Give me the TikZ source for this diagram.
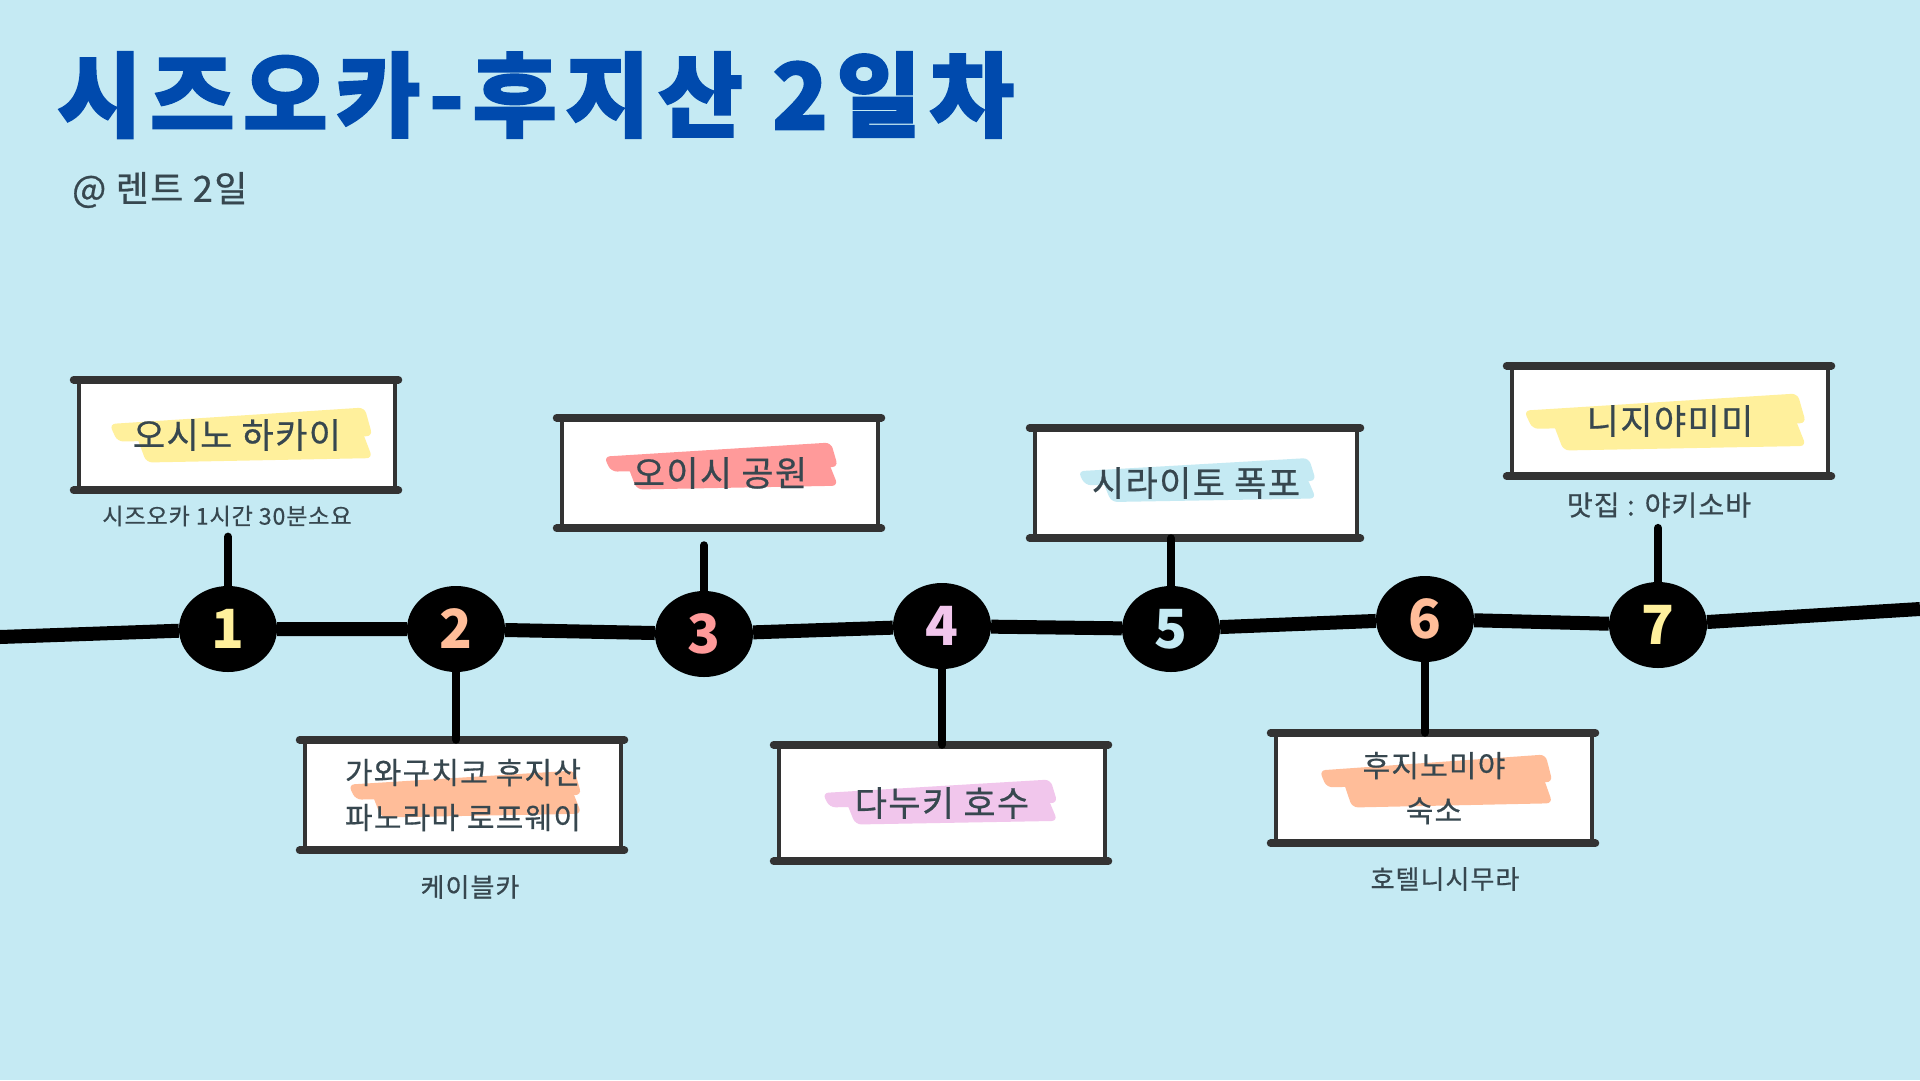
\documentclass[tikz,border=0pt]{standalone}
\usepackage{fontspec}
\setmainfont{Noto Sans CJK KR}
\newfontfamily\titlefont{Noto Sans CJK KR}[FakeBold=2, LetterSpace=9]
\newfontfamily\handfont{Noto Sans CJK KR}[FakeBold=0.6, LetterSpace=4]
\usetikzlibrary{shapes.geometric}

\definecolor{bg}{HTML}{C5EAF3}
\definecolor{titleblue}{HTML}{004AAD}
\definecolor{ink}{HTML}{37474F}
\definecolor{border}{HTML}{333333}
\definecolor{hiyellow}{HTML}{FFF09C}
\definecolor{hicoral}{HTML}{FF9A9A}
\definecolor{hipeach}{HTML}{FFBD99}
\definecolor{hipink}{HTML}{F1C6EC}
\definecolor{hiblue}{HTML}{C5EAF3}

\newcommand\numfont{\bfseries\fontsize{54}{54}\selectfont}
\newcommand\brush[5]{%
  \fill[#5, rounded corners=6pt] ({#1-0.50*#3},{#2-0.20*#4}) -- ({#1+0.47*#3},{#2-0.50*#4})
    -- ({#1+0.50*#3},{#2+0.02*#4}) -- ({#1-0.47*#3},{#2+0.12*#4}) -- cycle;
  \fill[#5, rounded corners=6pt] ({#1-0.40*#3},{#2-0.02*#4}) -- ({#1+0.46*#3},{#2-0.08*#4})
    -- ({#1+0.50*#3},{#2+0.42*#4}) -- ({#1-0.36*#3},{#2+0.50*#4}) -- cycle;
}

\tikzset{
  dot/.style={ellipse, fill=black, minimum width=98pt, minimum height=86pt,
    inner sep=0pt, font=\numfont},
  card/.style={draw=border, line width=4.5pt, fill=white, minimum width=316pt,
    minimum height=106pt, inner sep=0pt},
  cardedge/.style={draw=border, line width=8pt, line cap=round,
    shorten <=-3pt, shorten >=-1pt},
  label/.style={text=ink, inner sep=0pt, align=center,
    font=\handfont\fontsize{35}{44}\selectfont},
  label2/.style={label, font=\handfont\fontsize{30}{45}\selectfont},
  note/.style={text=ink, inner sep=2pt, font=\handfont\fontsize{26}{30}\selectfont},
  stem/.style={line width=8pt, line cap=round},
  timeline/.style={line width=14pt}
}

\begin{document}
\begin{tikzpicture}[x=1pt, y=-1pt]
        \fill[bg] (0,0) rectangle (1920,1080);
        \useasboundingbox (0,0) rectangle (1920,1080);

        % title
        \node[anchor=west, inner sep=0pt, text=titleblue,
          font=\titlefont\bfseries\fontsize{92}{92}\selectfont] (title) at (57,95) {시즈오카-후지산 2일차};
        \node[anchor=west, inner sep=0pt, text=ink,
          font=\handfont\fontsize{36}{36}\selectfont] (subtitle) at (72,190) {@ 렌트 2일};

        % stops on the line
        \node[dot, text=hiyellow] (n1) at (228, 629) {1};
        \node[dot, text=hipeach]  (n2) at (456, 629) {2};
        \node[dot, text=hicoral]  (n3) at (704, 634) {3};
        \node[dot, text=hipink]   (n4) at (942, 626) {4};
        \node[dot, text=hiblue]   (n5) at (1171, 629) {5};
        \node[dot, text=hipeach]  (n6) at (1425, 619) {6};
        \node[dot, text=hiyellow] (n7) at (1658, 625) {7};

        \coordinate (lineL) at (0, 637);
        \coordinate (lineR) at (1920, 609);
        \draw[timeline] (lineL) -- (n1) -- (n2) -- (n3) -- (n4) -- (n5) -- (n6) -- (n7) -- (lineR);

        % cards
        \node[card] (b1) at (237, 435) {};
        \node[card] (b2) at (463, 795) {};
        \node[card] (b3) at (720, 473) {};
        \node[card, minimum width=326pt, minimum height=112pt] (b4) at (942, 803) {};
        \node[card, minimum width=322pt] (b5) at (1196, 483) {};
        \node[card] (b6) at (1434, 788) {};
        \node[card] (b7) at (1670, 421) {};
        \foreach \b in {b1,b2,b3,b4,b5,b6,b7} {
          \draw[cardedge] (\b.north west) -- (\b.north east);
          \draw[cardedge] (\b.south west) -- (\b.south east);
        }

        % highlights
        \brush{241}{435}{263}{55}{hiyellow}
        \brush{465}{794}{233}{47}{hipeach}
        \brush{721}{466}{234}{47}{hicoral}
        \brush{940}{802}{235}{45}{hipink}
        \brush{1197}{480}{238}{44}{hiblue}
        \brush{1436}{781}{233}{53}{hipeach}
        \brush{1665}{422}{282}{57}{hiyellow}

        \node[label]  (t1) at (b1) {오시노 하카이};
        \node[label2] (t2) at (b2) {가와구치코 후지산\\파노라마 로프웨이};
        \node[label]  (t3) at (b3) {오이시 공원};
        \node[label]  (t4) at (b4) {다누키 호수};
        \node[label]  (t5) at (b5) {시라이토 폭포};
        \node[label2] (t6) at (b6) {후지노미야\\숙소};
        \node[label]  (t7) at (b7) {니지야미미};

        % notes
        \node[note, font=\handfont\fontsize{23}{26}\selectfont] (s1) at (227, 516) {시즈오카 1시간 30분소요};
        \node[note] (s2) at (470, 887) {케이블카};
        \node[note] (s6) at (1445, 879) {호텔니시무라};
        \node[note, font=\handfont\fontsize{28}{30}\selectfont] (s7) at (1659, 505) {맛집 : 야키소바};

        % stems
        \draw[stem, shorten >=8pt] (n1.north) -- (n1.north |- s1.south);
        \draw[stem, shorten >=17pt] (n3.north) -- (n3.north |- b3.south);
        \draw[stem] (n5.north) -- (n5.north |- b5.south);
        \draw[stem, shorten >=8pt] (n7.north) -- (n7.north |- s7.south);
        \draw[stem] (n2.south) -- (n2.south |- b2.north);
        \draw[stem] (n4.south) -- (n4.south |- b4.north);
        \draw[stem] (n6.south) -- (n6.south |- b6.north);
      \end{tikzpicture}
\end{document}
